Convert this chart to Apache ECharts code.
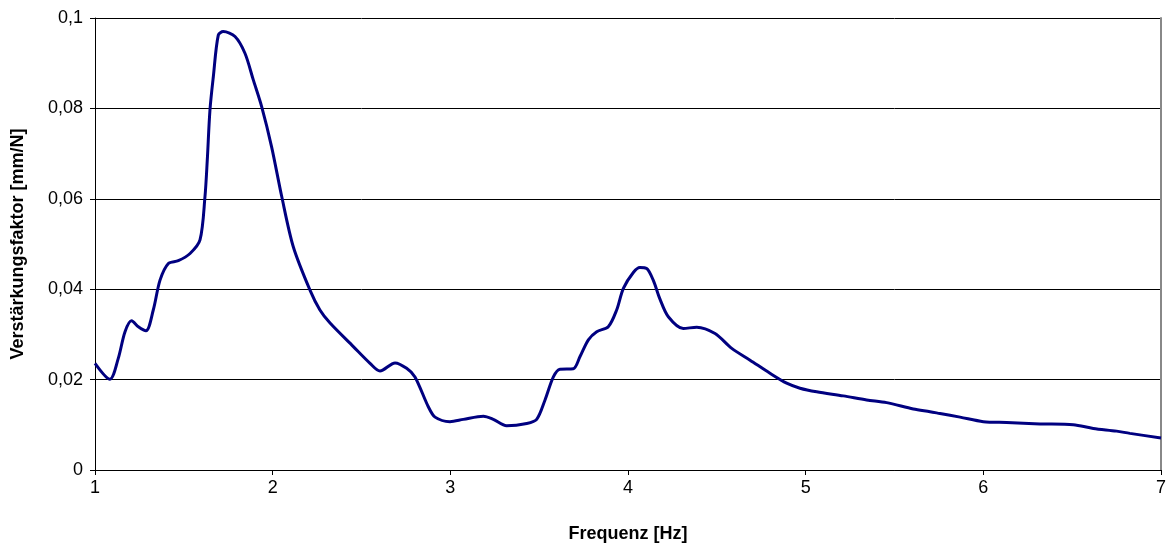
<!DOCTYPE html>
<html>
<head>
<meta charset="utf-8">
<script src="https://cdn.jsdelivr.net/npm/echarts@6/dist/echarts.min.js"></script>
<style>
  html, body { margin: 0; padding: 0; background: #fff; }
  #chart { width: 1169px; height: 544px; }
</style>
</head>
<body>
<div id="chart"></div>
<script>
// Frequenz [Hz]
const freq = [
  1.0, 1.084, 1.131, 1.169, 1.206, 1.244, 1.287, 1.328, 1.366, 1.413,
  1.469, 1.535, 1.591, 1.619, 1.632, 1.647, 1.666, 1.694, 1.722, 1.788,
  1.844, 1.891, 1.938, 1.994, 2.051, 2.116, 2.21, 2.266, 2.323, 2.454,
  2.548, 2.604, 2.689, 2.754, 2.801, 2.876, 2.914, 2.998, 3.073, 3.186,
  3.242, 3.317, 3.43, 3.486, 3.533, 3.58, 3.617, 3.692, 3.73, 3.777,
  3.824, 3.889, 3.936, 3.974, 4.03, 4.067, 4.105, 4.142, 4.18, 4.227,
  4.311, 4.387, 4.49, 4.584, 4.687, 4.799, 4.893, 4.968, 5.062, 5.212,
  5.343, 5.456, 5.606, 5.7, 5.756, 5.869, 6.0, 6.131, 6.319, 6.506,
  6.619, 6.75, 6.825, 7.0
];
// Verstärkungsfaktor [mm/N]
const gain = [
  0.0236, 0.0201, 0.0247, 0.0306, 0.0330, 0.0317, 0.0308, 0.0354, 0.0420, 0.0457,
  0.0463, 0.0479, 0.0509, 0.0605, 0.0686, 0.0796, 0.0870, 0.0962, 0.0970, 0.0959,
  0.0922, 0.0863, 0.0804, 0.0715, 0.0605, 0.0494, 0.0398, 0.0354, 0.0325, 0.0273,
  0.0236, 0.0219, 0.0237, 0.0225, 0.0206, 0.0140, 0.0117, 0.0107, 0.0112, 0.0119,
  0.0112, 0.0098, 0.0103, 0.0112, 0.0155, 0.0206, 0.0223, 0.0224, 0.0251, 0.0288,
  0.0306, 0.0317, 0.0354, 0.0402, 0.0437, 0.0448, 0.0446, 0.0420, 0.0378, 0.0339,
  0.0313, 0.0316, 0.0302, 0.0269, 0.0243, 0.0214, 0.0192, 0.0181, 0.0173, 0.0164,
  0.0155, 0.0149, 0.0135, 0.0129, 0.0125, 0.0117, 0.0107, 0.0105, 0.0102, 0.0100,
  0.0092, 0.0086, 0.0081, 0.0071
];

const font = 'Liberation Sans, Arial, sans-serif';
const myChart = echarts.init(document.getElementById('chart'));

myChart.setOption({
  animation: false,
  grid: { left: 95, right: 8, top: 18, bottom: 74, outerBoundsMode: 'none' },
  xAxis: {
    type: 'value',
    min: 1,
    max: 7,
    interval: 1,
    name: 'Frequenz [Hz]',
    nameLocation: 'middle',
    nameGap: 55,
    nameTextStyle: { fontFamily: font, fontSize: 18, fontWeight: 'bold', color: '#000' },
    axisLine: { lineStyle: { color: '#000', width: 1 } },
    axisTick: { show: true, inside: false, length: 5, lineStyle: { color: '#000' } },
    axisLabel: { fontFamily: font, fontSize: 18, color: '#000', margin: 9 },
    splitLine: { show: false }
  },
  yAxis: [{
    type: 'value',
    min: 0,
    max: 0.1,
    interval: 0.02,
    name: 'Verstärkungsfaktor [mm/N]',
    nameLocation: 'middle',
    nameGap: 68,
    nameTextStyle: { fontFamily: font, fontSize: 18, fontWeight: 'bold', color: '#000' },
    axisLine: { show: true, lineStyle: { color: '#000', width: 1 } },
    axisTick: { show: true, inside: false, length: 5, lineStyle: { color: '#000' } },
    axisLabel: {
      fontFamily: font, fontSize: 18, color: '#000', margin: 12,
      formatter: v => String(Math.round(v * 100) / 100).replace('.', ',')
    },
    splitLine: { show: true, lineStyle: { color: '#000', width: 1 } }
  }, {
    // grauer rechter Rand
    type: 'value',
    position: 'right',
    min: 0,
    max: 0.1,
    axisLine: { show: true, lineStyle: { color: '#888', width: 2 } },
    axisTick: { show: false },
    axisLabel: { show: false },
    splitLine: { show: false }
  }],
  series: [{
    type: 'line',
    data: freq.map((f, i) => [f, gain[i]]),
    smooth: 0.3,
    showSymbol: false,
    lineStyle: { color: '#000080', width: 3 },
    itemStyle: { color: '#000080' }
  }]
});
</script>
</body>
</html>
